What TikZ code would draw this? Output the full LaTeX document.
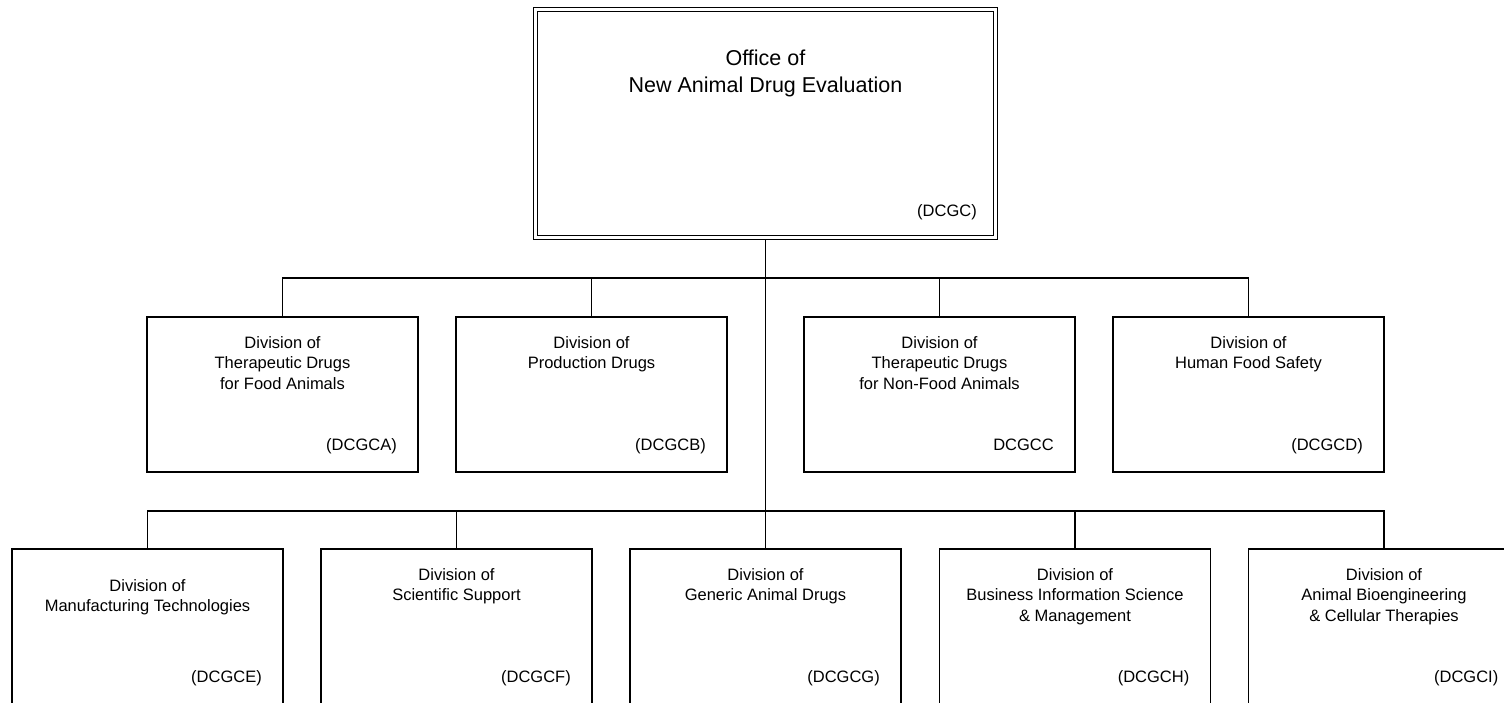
\documentclass[tikz,border=0pt]{standalone}
\usepackage{fontspec}
\setmainfont{Liberation Sans}
\usetikzlibrary{positioning}

\begin{document}
\begin{tikzpicture}[x=1pt,y=-1pt]

\tikzset{%
  box/.style    = {draw,line width=1.9pt,outer sep=0pt,inner sep=0pt,
                   minimum width=271pt,minimum height=155pt},
  office/.style = {draw,line width=1.4pt,double,double distance=2.2pt,
                   outer sep=0pt,inner sep=0pt,
                   minimum width=460pt,minimum height=228pt},
  title/.style  = {align=center,inner sep=0pt,
                   font=\fontsize{16.5}{20.5}\selectfont},
  code/.style   = {anchor=base east,inner sep=0pt,
                   font=\fontsize{16.5}{20}\selectfont},
  link/.style   = {line width=1.9pt},
}

\useasboundingbox (0,0) rectangle (1504,703);
\clip (0,0) rectangle (1504,703);

% Office
\node[office] (onade) at (765.5,123.5) {};
\node[title,font=\fontsize{21.5}{27}\selectfont,below=40pt of onade.north] (onade-t)
  {Office of\\New Animal Drug Evaluation};
\node[code] (onade-c) at ([xshift=-18.5pt,yshift=20.5pt]onade.south east) {(DCGC)};

% First row of divisions
\node[box] (dtdfa)  at (282.5,394.5)  {};
\node[box] (dpd)    at (591.5,394.5)  {};
\node[box] (dtdnfa) at (939.5,394.5)  {};
\node[box] (dhfs)   at (1248.5,394.5) {};

\node[title,below=19pt of dtdfa.north]  (dtdfa-t)  {Division of\\Therapeutic Drugs\\for Food Animals};
\node[title,below=19pt of dpd.north]    (dpd-t)    {Division of\\Production Drugs};
\node[title,below=19pt of dtdnfa.north] (dtdnfa-t) {Division of\\Therapeutic Drugs\\for Non-Food Animals};
\node[title,below=19pt of dhfs.north]   (dhfs-t)   {Division of\\Human Food Safety};

\node[code] (dtdfa-c)  at ([xshift=-21pt,yshift=22pt]dtdfa.south east)  {(DCGCA)};
\node[code] (dpd-c)    at ([xshift=-21pt,yshift=22pt]dpd.south east)    {(DCGCB)};
\node[code] (dtdnfa-c) at ([xshift=-21pt,yshift=22pt]dtdnfa.south east) {DCGCC};
\node[code] (dhfs-c)   at ([xshift=-21pt,yshift=22pt]dhfs.south east)   {(DCGCD)};

% Second row of divisions
\node[box] (dmt)   at (147.5,626.5)  {};
\node[box] (dss)   at (456.5,626.5)  {};
\node[box] (dgad)  at (765.5,626.5)  {};
\node[box] (dbism) at (1075,626.5)   {};
\node[box] (dabct) at (1384,626.5)   {};

\node[title,below=30pt of dmt.north]   (dmt-t)   {Division of\\Manufacturing Technologies};
\node[title,below=19pt of dss.north]   (dss-t)   {Division of\\Scientific Support};
\node[title,below=19pt of dgad.north]  (dgad-t)  {Division of\\Generic Animal Drugs};
\node[title,below=19pt of dbism.north] (dbism-t) {Division of\\Business Information Science\\\& Management};
\node[title,below=19pt of dabct.north] (dabct-t) {Division of\\Animal Bioengineering\\\& Cellular Therapies};

\node[code] (dmt-c)   at ([xshift=-21pt,yshift=22pt]dmt.south east)   {(DCGCE)};
\node[code] (dss-c)   at ([xshift=-21pt,yshift=22pt]dss.south east)   {(DCGCF)};
\node[code] (dgad-c)  at ([xshift=-21pt,yshift=22pt]dgad.south east)  {(DCGCG)};
\node[code] (dbism-c) at ([xshift=-21pt,yshift=22pt]dbism.south east) {(DCGCH)};
\node[code] (dabct-c) at ([xshift=-21pt,yshift=22pt]dabct.south east) {(DCGCI)};

% Trunk
\draw[link] ([yshift=-2.5pt]onade.south) -- (dgad.north);

% First row links
\draw[link] (dtdfa.north)  -- ++(0,-39) -| (dhfs.north);
\draw[link] (dpd.north)    -- ++(0,-39);
\draw[link] (dtdnfa.north) -- ++(0,-39);

% Second row links
\draw[link] (dmt.north)   -- ++(0,-38) -| (dabct.north);
\draw[link] (dss.north)   -- ++(0,-38);
\draw[link] (dbism.north) -- ++(0,-38);

\end{tikzpicture}
\end{document}
